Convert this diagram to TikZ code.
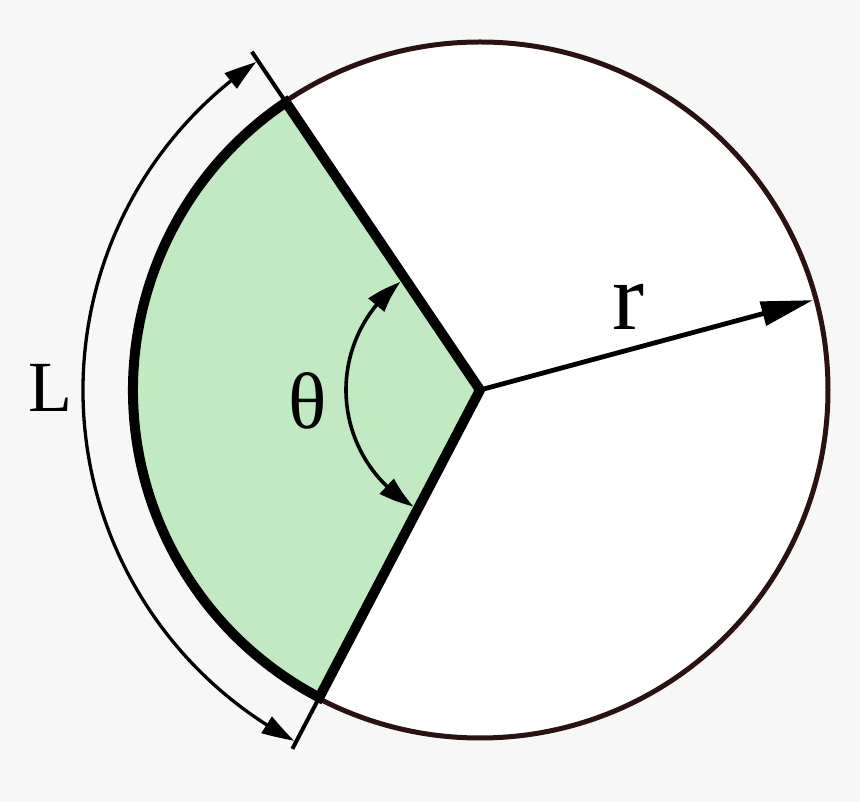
\documentclass[tikz,border=0pt]{standalone}
\usepackage{fontspec}
\setmainfont{Liberation Serif}
\usetikzlibrary{arrows.meta,bending}
\definecolor{bgc}{HTML}{F7F7F7}
\definecolor{circc}{HTML}{2A1212}
\definecolor{sectc}{HTML}{C2EAC2}
\tikzset{
  circline/.style={draw=circc, line width=5pt, fill=white},
  sectline/.style={draw=black, line width=10pt, line join=miter, fill=sectc},
  ticklne/.style={draw=black, line width=4pt},
  dimarc/.style={draw=black, line width=3.3pt, {Triangle[length=32pt,width=19pt,bend]}-{Triangle[length=32pt,width=19pt,bend]}},
  angarc/.style={draw=black, line width=3.6pt, {Triangle[length=34pt,width=20pt,bend]}-{Triangle[length=34pt,width=20pt,bend]}},
  radline/.style={draw=black, line width=4.8pt, -{Triangle[length=52pt,width=24pt]}},
  lbl/.style={inner sep=0pt, anchor=center}
}
\begin{document}
\begin{tikzpicture}[x=1pt,y=1pt]
\fill[bgc] (-480,-412) rectangle (380,390);
\useasboundingbox (-480,-412) rectangle (380,390);
\coordinate (O) at (0,0);
\draw[circline] (O) circle[radius=348];
\coordinate (A) at (124:347);
\coordinate (B) at (242.4:347);
\path[sectline] (O) -- (A) arc[start angle=124, end angle=242.4, radius=347] -- cycle;
\coordinate (At) at (124:408);
\coordinate (Bt) at (242.4:405);
\draw[ticklne] (A) -- (At);
\draw[ticklne] (B) -- (Bt);
\draw[dimarc] (124.3:397) arc[start angle=124.3, end angle=242.1, radius=397];
\draw[angarc] (126.3:134) arc[start angle=126.3, end angle=240.3, radius=134];
\coordinate (R) at (15.1:345);
\draw[radline] (O) -- (R);
\node[lbl, font=\fontsize{72}{80}\selectfont] (Lbl) at (-430,2.5) {L};
\node[lbl, font=\fontsize{96}{100}\selectfont] (rlbl) at (148,83) {r};
\node[lbl, font=\fontsize{80}{90}\selectfont] (tlbl) at (-172.5,-10.8) {θ};
\end{tikzpicture}
\end{document}
